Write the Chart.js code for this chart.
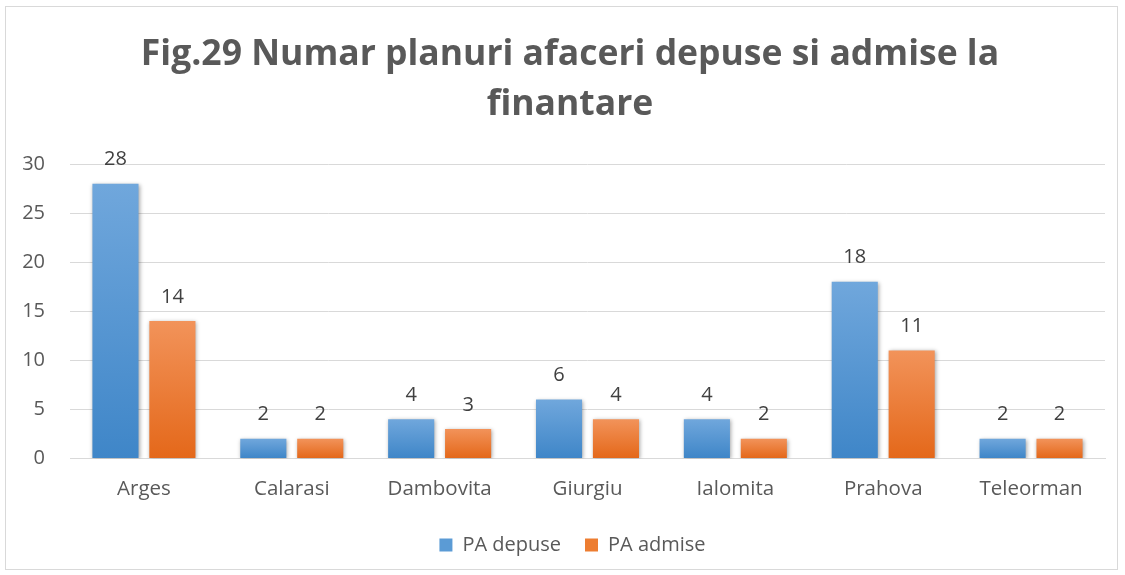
<!DOCTYPE html>
<html>
<head>
<meta charset="utf-8">
<script src="https://cdn.jsdelivr.net/npm/chart.js@4"></script>
<style>
  html, body { margin: 0; padding: 0; background: #fff; }
  #wrap { width: 1125px; height: 575px; position: relative; }
</style>
</head>
<body>
<div id="wrap"><canvas id="chart" width="1125" height="575"></canvas></div>
<script>
const judete = ['Arges', 'Calarasi', 'Dambovita', 'Giurgiu', 'Ialomita', 'Prahova', 'Teleorman'];
const paDepuse = [28, 2, 4, 6, 4, 18, 2];
const paAdmise = [14, 2, 3, 4, 2, 11, 2];
const titlu = ['Fig.29 Numar planuri afaceri depuse si admise la', 'finantare'];

const textGray = '#595959';
const fontName = "'Open Sans'";

// titlul, centrat ca in original (putin spre dreapta)
const chartTitle = {
  id: 'chartTitle',
  afterDraw(chart) {
    const ctx = chart.ctx;
    ctx.save();
    ctx.font = 'bold 35.5px ' + fontName;
    ctx.fillStyle = textGray;
    ctx.textAlign = 'center';
    ctx.textBaseline = 'middle';
    titlu.forEach((line, i) => ctx.fillText(line, 570, 55 + i * 50));
    ctx.restore();
  }
};

// legenda e un pic mai la dreapta in original
const legendShift = {
  id: 'legendShift',
  afterLayout(chart) {
    chart.legend.left += 20;
    chart.legend.right += 20;
  }
};

// gradient pe fiecare bara (deschis sus, inchis jos) + umbra discreta
const barStyle = {
  id: 'barStyle',
  beforeDatasetDraw(chart, args) {
    const ctx = chart.ctx;
    const colors = args.index === 0 ? ['#70A7DC', '#3F86C8'] : ['#F2935A', '#E4681A'];
    args.meta.data.forEach((el) => {
      const g = ctx.createLinearGradient(0, el.y, 0, el.base);
      g.addColorStop(0, colors[0]);
      g.addColorStop(1, colors[1]);
      el.options = Object.assign({}, el.options, { backgroundColor: g });
    });
    ctx.save();
    ctx.shadowColor = 'rgba(0,0,0,0.35)';
    ctx.shadowBlur = 4;
    ctx.shadowOffsetX = 1;
    ctx.shadowOffsetY = 1;
  },
  afterDatasetDraw(chart) {
    chart.ctx.restore();
  }
};

// etichete cu valori deasupra barelor
const valueLabels = {
  id: 'valueLabels',
  afterDatasetsDraw(chart) {
    const ctx = chart.ctx;
    ctx.save();
    ctx.font = '20px ' + fontName;
    ctx.fillStyle = '#404040';
    ctx.textAlign = 'center';
    ctx.textBaseline = 'bottom';
    chart.data.datasets.forEach((ds, i) => {
      chart.getDatasetMeta(i).data.forEach((el, j) => {
        ctx.fillText(ds.data[j], el.x, el.y - 14);
      });
    });
    ctx.restore();
  }
};

// chenarul graficului
const frame = {
  id: 'frame',
  beforeDraw(chart) {
    const ctx = chart.ctx;
    ctx.save();
    ctx.strokeStyle = '#D9D9D9';
    ctx.lineWidth = 1;
    ctx.strokeRect(5.5, 6.5, 1112, 563);
    ctx.restore();
  }
};

new Chart(document.getElementById('chart'), {
  type: 'bar',
  data: {
    labels: judete,
    datasets: [
      { label: 'PA depuse', data: paDepuse, backgroundColor: () => '#5B9BD5', borderWidth: 0 },
      { label: 'PA admise', data: paAdmise, backgroundColor: () => '#ED7D31', borderWidth: 0 }
    ]
  },
  options: {
    responsive: false,
    animation: false,
    layout: { padding: { left: 0, right: 20, top: 164, bottom: 10 } },
    datasets: { bar: { categoryPercentage: 0.77, barPercentage: 0.81 } },
    plugins: {
      title: { display: false },
      legend: {
        position: 'bottom',
        labels: {
          color: textGray,
          font: { family: fontName, size: 20 },
          boxWidth: 13,
          boxHeight: 13,
          padding: 24
        }
      },
      tooltip: { enabled: false }
    },
    scales: {
      x: {
        grid: { display: false },
        border: { color: '#D9D9D9' },
        ticks: { color: textGray, font: { family: fontName, size: 20.5 }, padding: 10 }
      },
      y: {
        min: 0,
        max: 30,
        ticks: { stepSize: 5, color: textGray, font: { family: fontName, size: 20 }, padding: 25 },
        grid: { color: '#D9D9D9', drawTicks: false },
        border: { display: false },
        afterFit(scale) { scale.width = 70; }
      }
    }
  },
  plugins: [frame, legendShift, barStyle, valueLabels, chartTitle]
});
</script>
</body>
</html>
